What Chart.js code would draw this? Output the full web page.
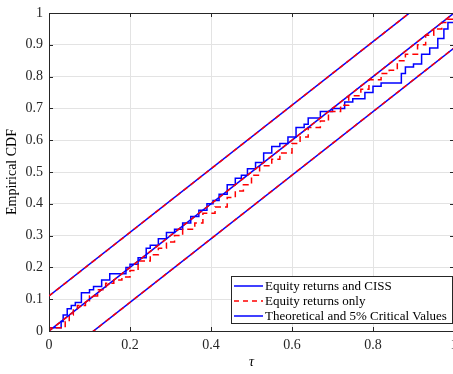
<!DOCTYPE html>
<html>
<head>
<meta charset="utf-8">
<script src="https://cdn.jsdelivr.net/npm/chart.js@4"></script>
<style>
  html, body { margin: 0; padding: 0; background: #fff; overflow: hidden; }
  canvas { display: block; }
</style>
</head>
<body>
<canvas id="mainChart" width="454" height="374"></canvas>
<script>
// Empirical CDF, equity returns with CISS
const cissTau = [0, 0.03, 0.035, 0.045, 0.055, 0.065, 0.08, 0.1, 0.11, 0.13, 0.15, 0.17, 0.19, 0.2, 0.22, 0.24,
  0.25, 0.27, 0.29, 0.31, 0.33, 0.35, 0.37, 0.39, 0.405, 0.42, 0.44, 0.46, 0.475, 0.49, 0.51, 0.53, 0.55,
  0.57, 0.59, 0.61, 0.63, 0.64, 0.67, 0.7, 0.73, 0.75, 0.78, 0.8, 0.82, 0.85, 0.87, 0.88, 0.9, 0.92, 0.94,
  0.96, 0.975, 0.985, 1];
const cissCdf = [0, 0.01, 0.03, 0.05, 0.07, 0.08, 0.09, 0.12, 0.13, 0.14, 0.16, 0.18, 0.18, 0.2, 0.21, 0.23,
  0.26, 0.27, 0.29, 0.31, 0.32, 0.34, 0.36, 0.38, 0.4, 0.41, 0.43, 0.46, 0.48, 0.49, 0.51, 0.53, 0.56,
  0.58, 0.59, 0.61, 0.64, 0.65, 0.67, 0.69, 0.7, 0.72, 0.73, 0.75, 0.77, 0.78, 0.78, 0.81, 0.83, 0.84, 0.87,
  0.89, 0.92, 0.95, 0.97];

// Empirical CDF, equity returns only
const eqTau = [0, 0.04, 0.05, 0.06, 0.07, 0.09, 0.1, 0.12, 0.14, 0.16, 0.18, 0.2, 0.22, 0.25, 0.27, 0.29,
  0.31, 0.33, 0.36, 0.38, 0.41, 0.44, 0.46, 0.48, 0.5, 0.52, 0.55, 0.57, 0.6, 0.62, 0.64, 0.67, 0.69, 0.72,
  0.74, 0.77, 0.79, 0.82, 0.84, 0.86, 0.88, 0.91, 0.93, 0.95, 0.97, 0.985, 1];
const eqCdf = [0, 0.01, 0.03, 0.05, 0.07, 0.08, 0.09, 0.11, 0.13, 0.15, 0.16, 0.17, 0.19, 0.22, 0.24, 0.26,
  0.28, 0.3, 0.32, 0.34, 0.37, 0.39, 0.42, 0.44, 0.46, 0.49, 0.52, 0.54, 0.56, 0.59, 0.61, 0.64, 0.66, 0.69,
  0.71, 0.74, 0.76, 0.79, 0.81, 0.82, 0.85, 0.87, 0.9, 0.93, 0.95, 0.97, 0.98];

// theoretical line and 5% critical bands
const lineTau = [0, 1];
const theoLine = [0, 1];
const upperLine = [0.11, 1.11];
const lowerLine = [-0.11, 0.89];

const xTicks = [0, 0.2, 0.4, 0.6, 0.8, 1];
const yTicks = [0, 0.1, 0.2, 0.3, 0.4, 0.5, 0.6, 0.7, 0.8, 0.9, 1];

const BLUE = "#0000ff";
const RED = "#ff0000";
const AXIS = "#262626";
const SERIF = "'Liberation Serif', 'Times New Roman', serif";

let toPoints = (xs, ys) => xs.map((x, i) => ({ x: x, y: ys[i] }));

let critSets = [];
[theoLine, upperLine, lowerLine].forEach((ys) => {
  critSets.push({ data: toPoints(lineTau, ys), borderColor: RED, borderDash: [5, 4], borderWidth: 1.5, order: 0 });
  critSets.push({ data: toPoints(lineTau, ys), borderColor: BLUE, borderWidth: 1.5, order: 1 });
});

const legendItems = [
  { text: "Equity returns and CISS", color: BLUE, dash: [] },
  { text: "Equity returns only", color: RED, dash: [5, 4] },
  { text: "Theoretical and 5% Critical Values", color: BLUE, dash: [] },
];

// box, inner ticks, legend and axis titles
const framePlugin = {
  id: "frame",
  afterDraw(chart) {
    const ctx = chart.ctx;
    const a = chart.chartArea;
    const xs = chart.scales.x;
    const ys = chart.scales.y;
    ctx.save();
    ctx.strokeStyle = AXIS;
    ctx.lineWidth = 1;
    ctx.beginPath();
    ctx.moveTo(a.left, a.top + 0.5);
    ctx.lineTo(a.right, a.top + 0.5);
    ctx.moveTo(a.right - 0.5, a.top);
    ctx.lineTo(a.right - 0.5, a.bottom);
    xTicks.forEach((v) => {
      const px = Math.round(xs.getPixelForValue(v)) + 0.5;
      ctx.moveTo(px, a.bottom);
      ctx.lineTo(px, a.bottom - 4);
      ctx.moveTo(px, a.top);
      ctx.lineTo(px, a.top + 4);
    });
    yTicks.forEach((v) => {
      const py = Math.round(ys.getPixelForValue(v)) + 0.5;
      ctx.moveTo(a.left, py);
      ctx.lineTo(a.left + 4, py);
      ctx.moveTo(a.right, py);
      ctx.lineTo(a.right - 4, py);
    });
    ctx.stroke();

    // legend
    const bx = 231.5, by = 276.5, bw = 221, bh = 47;
    ctx.fillStyle = "#fff";
    ctx.fillRect(bx, by, bw, bh);
    ctx.strokeStyle = AXIS;
    ctx.strokeRect(bx, by, bw, bh);
    ctx.font = "13px " + SERIF;
    ctx.textBaseline = "middle";
    legendItems.forEach((item, i) => {
      const cy = 286 + i * 15;
      ctx.strokeStyle = item.color;
      ctx.lineWidth = 1.5;
      ctx.setLineDash(item.dash);
      ctx.beginPath();
      ctx.moveTo(234, cy);
      ctx.lineTo(263, cy);
      ctx.stroke();
      ctx.setLineDash([]);
      ctx.fillStyle = "#000";
      ctx.fillText(item.text, 265, cy + 0.5);
    });

    // axis titles
    ctx.fillStyle = "#000";
    ctx.textAlign = "center";
    ctx.font = "italic 14px " + SERIF;
    ctx.fillText("\u03c4", (a.left + a.right) / 2, 362);
    ctx.translate(12, (a.top + a.bottom) / 2);
    ctx.rotate(-Math.PI / 2);
    ctx.font = "14px " + SERIF;
    ctx.fillText("Empirical CDF", 0, 0);
    ctx.restore();
  },
};

const tickFont = { family: SERIF, size: 14 };

let config = {
  type: "scatter",
  data: {
    datasets: [
      { data: toPoints(cissTau, cissCdf), borderColor: BLUE, borderWidth: 1.5, stepped: "after", order: 3 },
      { data: toPoints(eqTau, eqCdf), borderColor: RED, borderWidth: 1.5, borderDash: [6, 4], stepped: "after", order: 2 },
      ...critSets,
    ],
  },
  options: {
    responsive: false,
    animation: false,
    showLine: true,
    layout: { padding: { top: 13, right: 0, left: 0, bottom: 0 } },
    elements: { point: { radius: 0 }, line: { tension: 0 } },
    plugins: { legend: { display: false }, tooltip: { enabled: false } },
    scales: {
      x: {
        type: "linear",
        min: 0,
        max: 1,
        afterBuildTicks: (s) => { s.ticks = xTicks.map((v) => ({ value: v })); },
        afterFit: (s) => { s.height = 43; s.paddingLeft = 0; s.paddingRight = 0; },
        ticks: { font: tickFont, color: "#262626", padding: 6, maxRotation: 0, callback: (v) => String(v) },
        grid: { color: "#e3e3e3", drawTicks: false },
        border: { color: AXIS, width: 1 },
      },
      y: {
        type: "linear",
        min: 0,
        max: 1,
        afterBuildTicks: (s) => { s.ticks = yTicks.map((v) => ({ value: v })); },
        afterFit: (s) => { s.width = 49; s.paddingTop = 0; s.paddingBottom = 0; },
        ticks: { font: tickFont, color: "#262626", padding: 6, callback: (v) => String(v) },
        grid: { color: "#e3e3e3", drawTicks: false },
        border: { color: AXIS, width: 1 },
      },
    },
  },
  plugins: [framePlugin],
};

let mainChart = new Chart(document.getElementById("mainChart"), config);
</script>
</body>
</html>
